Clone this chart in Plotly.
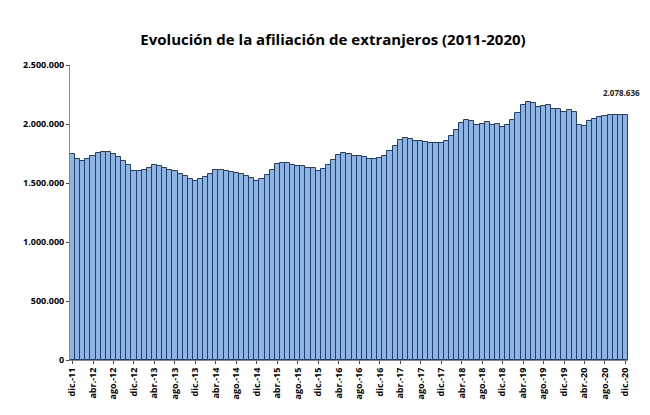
import plotly.graph_objects as go

# monthly foreign affiliates (thousands), dic-11 .. dic-20
meses = ["ene", "feb", "mar", "abr", "may", "jun", "jul", "ago", "sep", "oct", "nov", "dic"]
labels = ["dic.-11"] + [m + ".-" + str(y) for y in range(12, 21) for m in meses]

valores = [1745,
    1700, 1690, 1705, 1730, 1755, 1765, 1760, 1745, 1720, 1690, 1650, 1605,
    1600, 1610, 1625, 1655, 1645, 1630, 1610, 1600, 1580, 1560, 1530, 1520,
    1530, 1550, 1575, 1610, 1610, 1605, 1595, 1585, 1575, 1560, 1545, 1520,
    1535, 1565, 1610, 1665, 1670, 1668, 1650, 1648, 1640, 1628, 1625, 1605,
    1620, 1650, 1695, 1740, 1752, 1745, 1728, 1725, 1722, 1705, 1700, 1710,
    1730, 1770, 1810, 1865, 1882, 1875, 1855, 1855, 1850, 1840, 1835, 1840,
    1860, 1900, 1950, 2010, 2030, 2028, 1995, 2000, 2015, 1995, 1998, 1975,
    1995, 2035, 2095, 2165, 2185, 2178, 2145, 2150, 2158, 2130, 2125, 2105,
    2120, 2100, 1990, 1985, 2025, 2045, 2060, 2070, 2078, 2079, 2078, 2078.636]

tick_every = labels[::4]
ytick_vals = [0, 500, 1000, 1500, 2000, 2500]
ytick_text = ["0", "500.000", "1.000.000", "1.500.000", "2.000.000", "2.500.000"]

fig = go.Figure()
fig.add_trace(go.Bar(x=labels, y=valores, marker=dict(color="#8EB4E3", line=dict(color="#1F3F6E", width=1)),
                     width=1.0))

fig.add_annotation(x=labels[-1], y=valores[-1], text="<b>2.078.636</b>", showarrow=False,
                   yshift=22, xshift=-4, font=dict(size=8, color="#222"))

fig.update_layout(
    width=650, height=415,
    title=dict(text="<b>Evolución de la afiliación de extranjeros (2011-2020)</b>", x=0.5, y=0.935,
               font=dict(family="Open Sans", size=15, color="black")),
    font=dict(family="Open Sans", color="black"),
    plot_bgcolor="white", paper_bgcolor="white",
    margin=dict(l=62, r=30, t=57, b=63),
    bargap=0, showlegend=False,
)
fig.update_xaxes(tickmode="array", tickvals=tick_every, ticktext=["<b>" + t + "</b>" for t in tick_every],
                 tickangle=-90, tickfont=dict(size=9), showline=True, linecolor="#888", automargin=False,
                 ticks="outside", ticklen=3, range=[-0.5, len(labels) - 0.5])
fig.update_yaxes(tickmode="array", tickvals=ytick_vals, ticktext=["<b>" + t + "</b>" for t in ytick_text],
                 range=[0, 2500], tickfont=dict(size=9), showgrid=False, showline=True, automargin=False,
                 linecolor="#888", ticks="outside", ticklen=3)

fig.write_html("out.html")
